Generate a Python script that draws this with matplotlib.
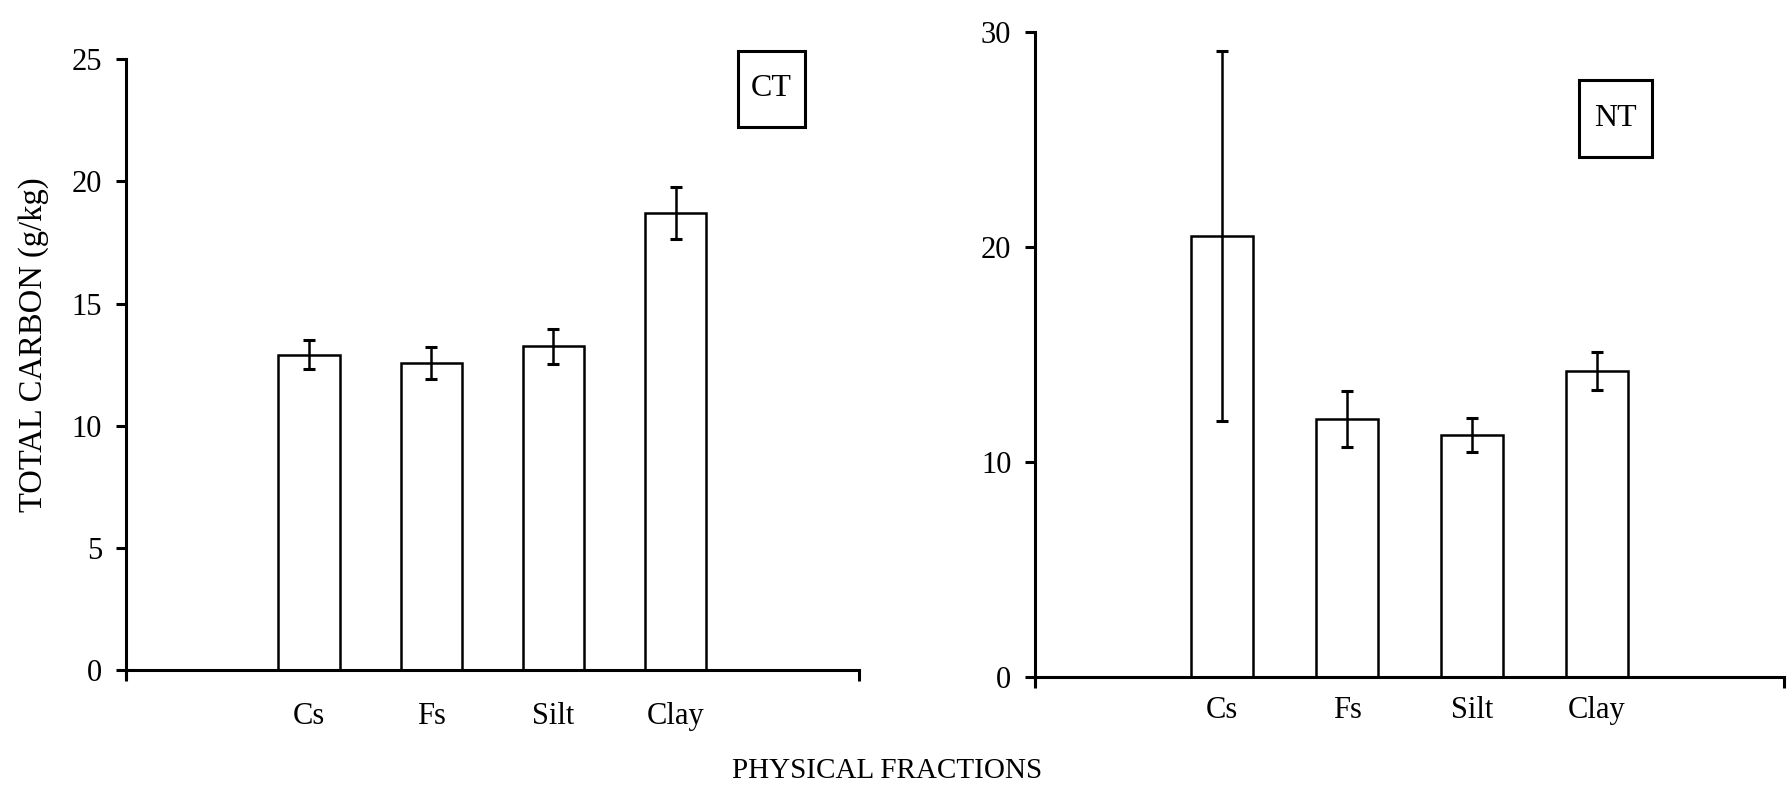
import matplotlib.pyplot as plt
from matplotlib.patches import Rectangle
import numpy as np

plt.rcParams['font.family'] = ['Liberation Serif', 'DejaVu Serif']

fractions = ['Cs', 'Fs', 'Silt', 'Clay']
ct_carbon = [12.9, 12.55, 13.25, 18.7]
ct_err = [0.6, 0.65, 0.72, 1.05]
nt_carbon = [20.5, 12.0, 11.25, 14.2]
nt_err = [8.6, 1.3, 0.8, 0.88]

fig = plt.figure(figsize=(17.89, 7.9), dpi=100)
ax1 = fig.add_axes([0.0702, 0.152, 0.41, 0.773])
ax2 = fig.add_axes([0.5785, 0.1435, 0.4187, 0.8165])

x = np.arange(len(fractions))

def draw(ax, vals, errs, ymax, ystep, xpad):
    ax.bar(x, vals, width=0.5, color='white', edgecolor='black', linewidth=1.8, zorder=2)
    ax.errorbar(x, vals, yerr=errs, fmt='none', ecolor='black', elinewidth=1.8,
                capsize=4, capthick=2.2, zorder=3)
    ax.set_xlim(-1.5, 4.5)
    ax.set_ylim(0, ymax)
    ax.set_yticks(np.arange(0, ymax + 1, ystep))
    ax.set_xticks(x)
    ax.set_xticklabels(fractions)
    ax.set_xticks([-1.5, 4.5], minor=True)
    ax.tick_params(axis='x', which='major', length=0, pad=xpad, labelsize=22)
    ax.tick_params(axis='x', which='minor', length=8, width=2.2, direction='out')
    ax.tick_params(axis='y', length=7, width=2.2, pad=10, labelsize=22)
    for s in ['top', 'right']:
        ax.spines[s].set_visible(False)
    for s in ['left', 'bottom']:
        ax.spines[s].set_linewidth(2.2)
    # y axis sticks out a bit under zero
    ax.spines['left'].set_bounds(-ymax * 0.012, ymax)
    ax.spines['left'].set_clip_on(False)

draw(ax1, ct_carbon, ct_err, 25, 5, 23)
draw(ax2, nt_carbon, nt_err, 30, 10, 14)

# boxed labels CT / NT
for (x0, y0, x1, y1), lab in [((738, 51, 805, 127), 'CT'), ((1579, 80, 1652, 157), 'NT')]:
    fig.patches.append(Rectangle((x0 / 1789, 1 - y1 / 790), (x1 - x0) / 1789, (y1 - y0) / 790,
                                 transform=fig.transFigure, fill=False, edgecolor='black',
                                 linewidth=2.2))
    fig.text((x0 + x1) / 2 / 1789, 1 - (y0 + y1) / 2 / 790, lab, ha='center', va='center', fontsize=23)

fig.text(34 / 1789, 1 - 345 / 790, 'TOTAL CARBON (g/kg)', rotation=90, ha='center', va='center', fontsize=23.5)
fig.text(887 / 1789, 1 - 771 / 790, 'PHYSICAL FRACTIONS', ha='center', va='center', fontsize=21)

fig.savefig('out.png', dpi=100)
